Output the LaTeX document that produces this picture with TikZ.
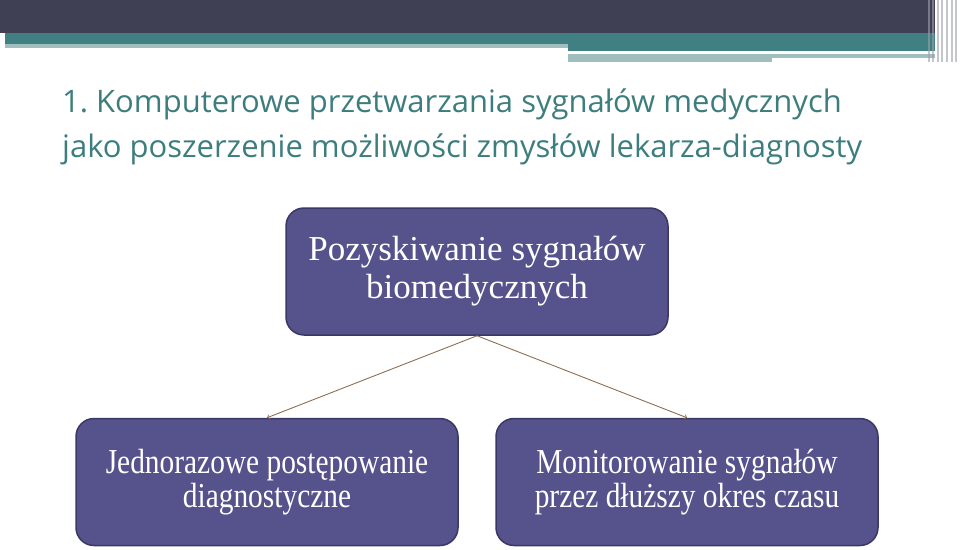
\documentclass[tikz,border=0pt]{standalone}
\usepackage{fontspec}
\setmainfont{Liberation Serif}
\newfontfamily\titlefont{Open Sans}
\newfontfamily\narrowfont[FakeStretch=0.84]{Liberation Serif}
\usetikzlibrary{calc,positioning,arrows,shapes}
\definecolor{barDark}{RGB}{64,64,84}
\definecolor{barTeal}{RGB}{65,128,130}
\definecolor{barLight}{RGB}{160,190,190}
\definecolor{titleTeal}{RGB}{62,125,125}
\definecolor{boxFill}{RGB}{85,82,140}
\definecolor{boxLine}{RGB}{58,56,100}
\definecolor{linkBrown}{RGB}{140,110,85}

\begin{document}
\begin{tikzpicture}[x=1pt,y=-1pt, box/.style={draw=boxLine,fill=boxFill,line width=1.5pt,rounded corners=18pt,minimum width=382pt,minimum height=127pt,inner sep=0pt,text=white,align=center},ttl/.style={anchor=base west,inner sep=0pt,text=titleTeal,font=\titlefont\fontsize{31}{34}\selectfont},link/.style={->,draw=linkBrown,line width=0.9pt}]
            \useasboundingbox (0,0) rectangle (960,549);
            % header bars
            \fill[barDark] (0,0) rectangle (935,33);
            \fill[barTeal] (5,33) rectangle (935,44);
            \fill[barLight] (5,44) rectangle (568,48);
            \fill[barTeal] (568,44) rectangle (935,51);
            \fill[barLight] (568,54) rectangle (935,58);
            \fill[barLight] (568,58) rectangle (772,62);
            \foreach \x in {928,932,937,941,946,951,955}
              \fill[barDark!50,opacity=0.6] (\x,0) rectangle ++(1.5,62);

            \node[ttl] (title1) at (62,112) {1.\ Komputerowe przetwarzania sygnałów medycznych};
            \node[ttl] (title2) at (62,157) {jako poszerzenie możliwości zmysłów lekarza-diagnosty};

            \node[box,font=\fontsize{35}{38}\selectfont] (src) at (477,271.5) {Pozyskiwanie sygnałów\\biomedycznych};
            \node[box,font=\narrowfont\fontsize{35}{34}\selectfont] (single) at (267,482) {Jednorazowe postępowanie\\diagnostyczne};
            \node[box,font=\narrowfont\fontsize{35}{34}\selectfont] (monitor) at (687,482) {Monitorowanie sygnałów\\przez dłuższy okres czasu};

            \draw[link] (src.south) -- (single.north);
            \draw[link] (src.south) -- (monitor.north);
          \end{tikzpicture}
\end{document}
